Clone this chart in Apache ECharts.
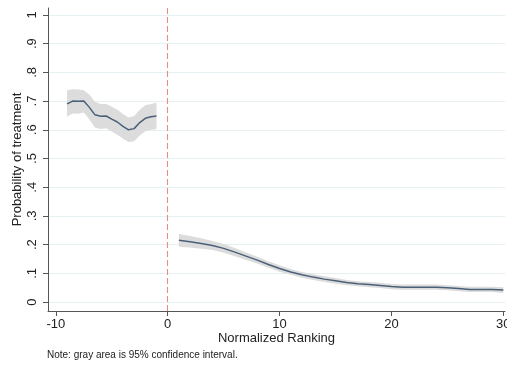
<!DOCTYPE html>
<html>
<head>
<meta charset="utf-8">
<script src="https://cdn.jsdelivr.net/npm/echarts@6/dist/echarts.min.js"></script>
<style>
html,body{margin:0;padding:0;background:#fff;}
#chart{width:507px;height:367px;}
</style>
</head>
<body>
<div id="chart"></div>
<script>
// Left of cutoff (normalized ranking < 0)
var leftX     = [-9, -8.5, -8, -7.5, -7, -6.5, -6, -5.5, -5, -4.5, -4, -3.5, -3, -2.5, -2, -1.5, -1];
var leftMean  = [0.690, 0.700, 0.699, 0.700, 0.678, 0.652, 0.647, 0.648, 0.637, 0.627, 0.612, 0.600, 0.604, 0.625, 0.640, 0.645, 0.648];
var leftUpper = [0.738, 0.741, 0.740, 0.738, 0.722, 0.698, 0.690, 0.690, 0.680, 0.670, 0.655, 0.643, 0.648, 0.670, 0.685, 0.690, 0.694];
var leftLower = [0.646, 0.657, 0.656, 0.660, 0.636, 0.608, 0.603, 0.605, 0.594, 0.583, 0.569, 0.557, 0.560, 0.580, 0.595, 0.600, 0.602];

// Right of cutoff (normalized ranking > 0)
var rightX     = [1, 2, 3, 4, 5, 6, 7, 8, 9, 10, 11, 12, 13, 14, 15, 16, 17, 18, 19, 20, 21, 22, 23, 24, 25, 26, 27, 28, 29, 30];
var rightMean  = [0.215, 0.210, 0.204, 0.197, 0.187, 0.174, 0.160, 0.146, 0.131, 0.117, 0.105, 0.095, 0.087, 0.080, 0.074, 0.068, 0.064, 0.061, 0.058, 0.054, 0.052, 0.052, 0.052, 0.052, 0.050, 0.047, 0.044, 0.044, 0.044, 0.042];
var rightUpper = [0.237, 0.230, 0.222, 0.213, 0.202, 0.188, 0.173, 0.158, 0.142, 0.128, 0.115, 0.105, 0.097, 0.090, 0.084, 0.077, 0.073, 0.070, 0.067, 0.063, 0.061, 0.061, 0.061, 0.061, 0.059, 0.056, 0.053, 0.053, 0.053, 0.052];
var rightLower = [0.193, 0.190, 0.186, 0.181, 0.172, 0.160, 0.147, 0.134, 0.120, 0.106, 0.095, 0.085, 0.077, 0.070, 0.064, 0.059, 0.055, 0.052, 0.049, 0.045, 0.043, 0.043, 0.043, 0.043, 0.041, 0.038, 0.035, 0.035, 0.035, 0.032];

// Tick labels
var yTicks = [0, 0.1, 0.2, 0.3, 0.4, 0.5, 0.6, 0.7, 0.8, 0.9, 1];
var yTickLabels = ['0', '.1', '.2', '.3', '.4', '.5', '.6', '.7', '.8', '.9', '1'];
var xTicks = [-10, 0, 10, 20, 30];
var cutoff = 0;

var FONT = 'Liberation Sans, Arial, sans-serif';
var lineColor = '#4a6079';
var bandColor = '#dcdcdc';

function pairs(xs, ys) { return xs.map(function (x, i) { return [x, ys[i]]; }); }

function bandSeries(xs, lo, hi) {
  return {
    type: 'custom', silent: true, z: 1, clip: true,
    data: xs.map(function (x, i) { return [x, lo[i], hi[i]]; }),
    encode: { x: 0, y: [1, 2] },
    renderItem: function (params, api) {
      if (params.dataIndex !== 0) return null;
      var pts = [];
      for (var i = 0; i < xs.length; i++) pts.push(api.coord([xs[i], hi[i]]));
      for (var j = xs.length - 1; j >= 0; j--) pts.push(api.coord([xs[j], lo[j]]));
      return { type: 'polygon', shape: { points: pts }, style: { fill: bandColor, stroke: null } };
    }
  };
}

var chart = echarts.init(document.getElementById('chart'), null, { renderer: 'canvas' });

var series = [
  bandSeries(leftX, leftLower, leftUpper),
  bandSeries(rightX, rightLower, rightUpper),
  {
    type: 'line', data: pairs(leftX, leftMean), symbol: 'none', smooth: false,
    lineStyle: { color: lineColor, width: 1.5 }, z: 3,
    markLine: {
      silent: true, symbol: 'none', label: { show: false },
      lineStyle: { color: '#e58c8c', width: 1.1, type: [6, 3] },
      data: [{ xAxis: cutoff }]
    }
  },
  {
    type: 'line', data: pairs(rightX, rightMean), symbol: 'none', smooth: false,
    lineStyle: { color: lineColor, width: 1.5 }, z: 3
  }
];

chart.setOption({
  backgroundColor: '#ffffff',
  animation: false,
  grid: { left: 48, right: 2, top: 8, bottom: 56, containLabel: false, outerBoundsMode: 'none' },
  xAxis: {
    type: 'value', min: -10.7, max: 30.15,
    name: 'Normalized Ranking', nameLocation: 'middle', nameGap: 21, nameMoveOverlap: false,
    nameTextStyle: { fontFamily: FONT, fontSize: 13, color: '#222' },
    axisLine: { show: true, onZero: false, lineStyle: { color: '#555', width: 1 } },
    axisTick: { show: true, length: 5, lineStyle: { color: '#555' }, customValues: xTicks },
    axisLabel: { fontFamily: FONT, fontSize: 13, color: '#222', margin: 7, customValues: xTicks },
    splitLine: { show: false }
  },
  yAxis: {
    type: 'value', min: -0.031, max: 1.024,
    name: 'Probability of treatment', nameLocation: 'middle', nameGap: 24, nameRotate: 90,
    nameMoveOverlap: false,
    nameTextStyle: { fontFamily: FONT, fontSize: 13, color: '#222' },
    axisLine: { show: true, onZero: false, lineStyle: { color: '#555', width: 1 } },
    axisTick: { show: true, length: 5, lineStyle: { color: '#555' }, customValues: yTicks },
    axisLabel: {
      fontFamily: FONT, fontSize: 13, color: '#222', rotate: 90, margin: 9,
      customValues: yTicks,
      formatter: function (v) {
        var i = yTicks.findIndex(function (t) { return Math.abs(t - v) < 1e-9; });
        return i >= 0 ? yTickLabels[i] : '';
      }
    },
    splitLine: { show: true, lineStyle: { color: '#e6eff1', width: 1 } }
  },
  graphic: [
    {
      type: 'text', left: 47, top: 350,
      style: { text: 'Note: gray area is 95% confidence interval.', font: '10px ' + FONT, fill: '#222' }
    }
  ],
  series: series
});
</script>
</body>
</html>
